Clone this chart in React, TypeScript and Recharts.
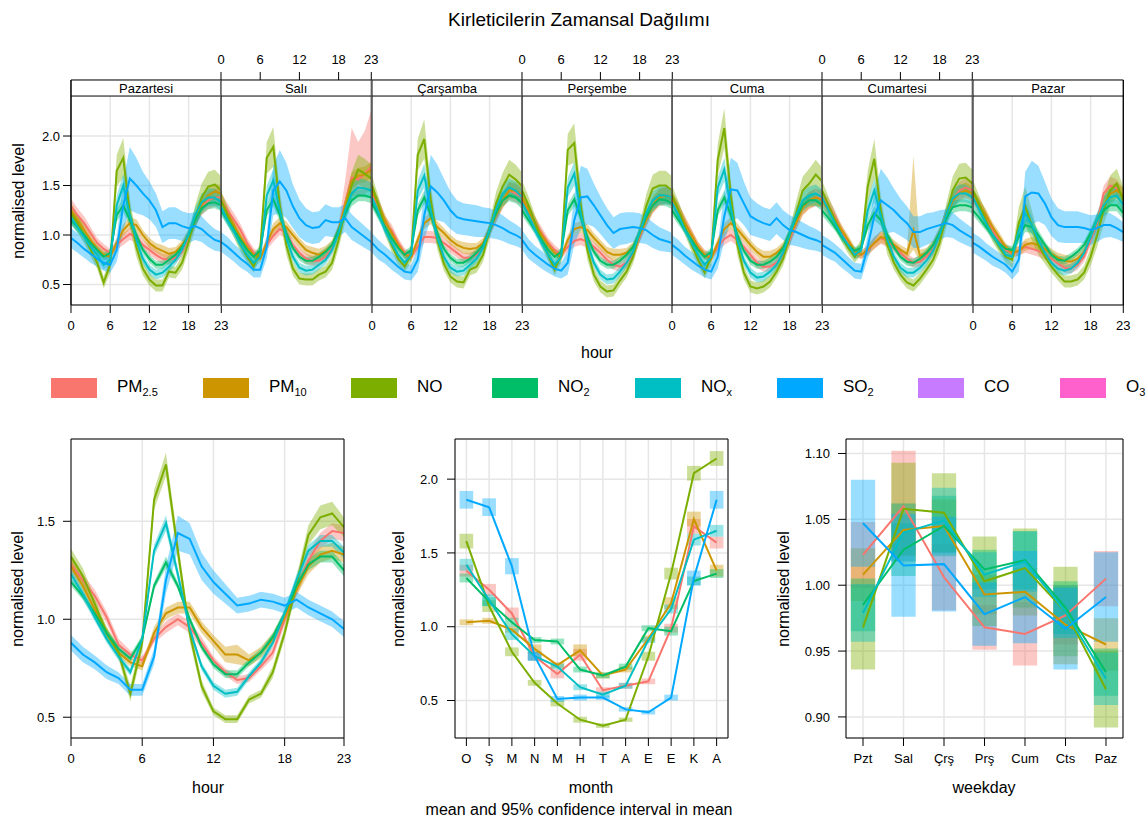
import React from 'react'
import { ComposedChart, Line, Area, XAxis, YAxis, CartesianGrid, ReferenceArea, ReferenceLine } from 'recharts'

// labels
const DAYS = ['Pazartesi', 'Salı', 'Çarşamba', 'Perşembe', 'Cuma', 'Cumartesi', 'Pazar']
const HOURS = [0, 1, 2, 3, 4, 5, 6, 7, 8, 9, 10, 11, 12, 13, 14, 15, 16, 17, 18, 19, 20, 21, 22, 23]
const HOUR_TICKS = [0, 6, 12, 18, 23]
const MONTHS = ['O', 'Ş', 'M', 'N', 'M', 'H', 'T', 'A', 'E', 'E', 'K', 'A']
const MONTH_NUMS = [1, 2, 3, 4, 5, 6, 7, 8, 9, 10, 11, 12]
const WEEKDAYS = ['Pzt', 'Sal', 'Çrş', 'Prş', 'Cum', 'Cts', 'Paz']
const WEEKDAY_NUMS = [1, 2, 3, 4, 5, 6, 7]

// pollutants shown in the panels
const SERIES = [
    { key: 'pm25', color: '#F8766D' },
    { key: 'pm10', color: '#CD9600' },
    { key: 'no', color: '#7CAE00' },
    { key: 'no2', color: '#00BE67' },
    { key: 'nox', color: '#00BFC4' },
    { key: 'so2', color: '#00A9FF' },
]

// legend (CO and O3 are in the key but have no data)
const LEGEND_ITEMS = [
    { name: 'PM', sub: '2.5', color: '#F8766D' },
    { name: 'PM', sub: '10', color: '#CD9600' },
    { name: 'NO', sub: '', color: '#7CAE00' },
    { name: 'NO', sub: '2', color: '#00BE67' },
    { name: 'NO', sub: 'x', color: '#00BFC4' },
    { name: 'SO', sub: '2', color: '#00A9FF' },
    { name: 'CO', sub: '', color: '#C77CFF' },
    { name: 'O', sub: '3', color: '#FF61CC' },
]

// ---- day x hour means (rows = Pazartesi..Pazar) ----
const PM25_BY_DAY = [
    [1.29, 1.20, 1.12, 1.02, 0.92, 0.86, 0.82, 0.90, 0.96, 1.01, 0.98, 0.90, 0.85, 0.80, 0.76, 0.75, 0.77, 0.83, 0.98, 1.15, 1.28, 1.35, 1.38, 1.38],
    [1.35, 1.25, 1.15, 1.05, 0.92, 0.82, 0.78, 0.90, 0.99, 1.06, 1.02, 0.90, 0.82, 0.76, 0.74, 0.74, 0.78, 0.86, 1.05, 1.32, 1.58, 1.56, 1.62, 1.69],
    [1.40, 1.30, 1.12, 1.05, 0.92, 0.82, 0.78, 0.88, 0.98, 0.98, 0.97, 0.92, 0.87, 0.82, 0.77, 0.77, 0.80, 0.90, 1.05, 1.20, 1.35, 1.45, 1.42, 1.38],
    [1.35, 1.25, 1.12, 1.02, 0.92, 0.85, 0.80, 0.88, 0.94, 0.96, 0.93, 0.88, 0.82, 0.75, 0.70, 0.68, 0.72, 0.80, 0.98, 1.15, 1.30, 1.38, 1.40, 1.38],
    [1.35, 1.25, 1.12, 1.00, 0.88, 0.80, 0.78, 0.88, 0.96, 1.00, 0.95, 0.88, 0.80, 0.72, 0.68, 0.68, 0.72, 0.80, 0.95, 1.12, 1.28, 1.35, 1.38, 1.37],
    [1.38, 1.30, 1.18, 1.04, 0.92, 0.82, 0.80, 0.84, 0.92, 0.97, 0.94, 0.88, 0.82, 0.76, 0.72, 0.73, 0.78, 0.85, 1.00, 1.20, 1.35, 1.45, 1.48, 1.45],
    [1.38, 1.30, 1.17, 1.05, 0.94, 0.85, 0.81, 0.84, 0.88, 0.86, 0.84, 0.80, 0.76, 0.71, 0.67, 0.66, 0.70, 0.78, 0.95, 1.12, 1.42, 1.50, 1.47, 1.38],
]
const PM10_BY_DAY = [
    [1.25, 1.15, 1.05, 0.95, 0.86, 0.80, 0.78, 0.92, 1.05, 1.12, 1.10, 1.00, 0.92, 0.87, 0.84, 0.81, 0.83, 0.90, 1.00, 1.15, 1.30, 1.40, 1.44, 1.42],
    [1.35, 1.22, 1.10, 0.98, 0.88, 0.80, 0.76, 0.92, 1.06, 1.12, 1.08, 1.00, 0.92, 0.85, 0.82, 0.80, 0.84, 0.90, 1.05, 1.30, 1.55, 1.60, 1.61, 1.66],
    [1.45, 1.30, 1.15, 1.02, 0.90, 0.80, 0.78, 0.95, 1.12, 1.17, 1.08, 1.02, 0.95, 0.90, 0.87, 0.86, 0.87, 0.92, 1.05, 1.20, 1.35, 1.45, 1.45, 1.40],
    [1.38, 1.25, 1.12, 1.00, 0.90, 0.82, 0.78, 0.95, 1.06, 1.08, 1.05, 0.97, 0.90, 0.83, 0.80, 0.80, 0.82, 0.88, 1.00, 1.15, 1.30, 1.38, 1.40, 1.38],
    [1.38, 1.25, 1.12, 1.00, 0.88, 0.80, 0.76, 0.92, 1.06, 1.12, 1.06, 0.98, 0.90, 0.83, 0.78, 0.78, 0.82, 0.88, 1.00, 1.12, 1.28, 1.35, 1.38, 1.35],
    [1.35, 1.25, 1.15, 1.05, 0.95, 0.84, 0.80, 0.85, 0.92, 0.98, 0.96, 0.90, 0.85, 0.81, 1.05, 0.79, 0.82, 0.90, 1.02, 1.20, 1.35, 1.42, 1.45, 1.42],
    [1.40, 1.30, 1.20, 1.08, 0.98, 0.88, 0.82, 0.84, 0.90, 0.92, 0.90, 0.86, 0.81, 0.77, 0.74, 0.73, 0.76, 0.83, 0.98, 1.15, 1.30, 1.42, 1.45, 1.40],
]
const NO_BY_DAY = [
    [1.22, 1.12, 1.00, 0.85, 0.72, 0.52, 0.70, 1.65, 1.78, 1.22, 0.88, 0.66, 0.55, 0.49, 0.49, 0.63, 0.62, 0.72, 0.93, 1.18, 1.38, 1.49, 1.51, 1.45],
    [1.35, 1.20, 1.05, 0.90, 0.78, 0.68, 0.85, 1.78, 1.89, 1.30, 0.90, 0.66, 0.56, 0.55, 0.55, 0.60, 0.63, 0.72, 0.95, 1.25, 1.50, 1.66, 1.62, 1.57],
    [1.50, 1.30, 1.08, 0.90, 0.76, 0.68, 0.81, 1.81, 1.97, 1.35, 0.95, 0.71, 0.58, 0.53, 0.52, 0.65, 0.68, 0.80, 1.05, 1.32, 1.49, 1.61, 1.56, 1.49],
    [1.45, 1.30, 1.12, 0.95, 0.80, 0.65, 0.80, 1.86, 1.93, 1.30, 0.85, 0.60, 0.48, 0.43, 0.44, 0.54, 0.63, 0.78, 1.02, 1.29, 1.47, 1.50, 1.50, 1.45],
    [1.40, 1.25, 1.08, 0.90, 0.75, 0.62, 0.78, 1.76, 2.08, 1.40, 0.90, 0.62, 0.48, 0.46, 0.48, 0.53, 0.63, 0.76, 0.98, 1.22, 1.45, 1.52, 1.61, 1.54],
    [1.45, 1.30, 1.15, 1.00, 0.87, 0.78, 0.88, 1.49, 1.77, 1.25, 0.90, 0.72, 0.60, 0.52, 0.49, 0.56, 0.65, 0.75, 0.92, 1.19, 1.45, 1.57, 1.58, 1.52],
    [1.45, 1.30, 1.15, 1.00, 0.88, 0.78, 0.75, 1.12, 1.29, 1.10, 0.90, 0.78, 0.68, 0.60, 0.53, 0.53, 0.55, 0.62, 0.78, 1.00, 1.25, 1.45, 1.52, 1.35],
]
const NO2_BY_DAY = [
    [1.15, 1.08, 1.00, 0.92, 0.85, 0.78, 0.82, 1.20, 1.30, 1.15, 1.00, 0.85, 0.76, 0.70, 0.70, 0.75, 0.80, 0.88, 1.00, 1.15, 1.27, 1.32, 1.33, 1.30],
    [1.25, 1.15, 1.05, 0.95, 0.85, 0.78, 0.85, 1.25, 1.36, 1.20, 1.02, 0.87, 0.78, 0.74, 0.74, 0.78, 0.83, 0.90, 1.05, 1.22, 1.35, 1.40, 1.40, 1.38],
    [1.32, 1.20, 1.08, 0.97, 0.87, 0.80, 0.85, 1.25, 1.38, 1.20, 1.02, 0.86, 0.77, 0.72, 0.72, 0.76, 0.82, 0.90, 1.05, 1.22, 1.35, 1.40, 1.38, 1.32],
    [1.25, 1.15, 1.05, 0.95, 0.85, 0.78, 0.83, 1.25, 1.36, 1.18, 0.98, 0.83, 0.74, 0.70, 0.70, 0.74, 0.80, 0.88, 1.02, 1.18, 1.30, 1.36, 1.35, 1.32],
    [1.25, 1.15, 1.05, 0.95, 0.85, 0.78, 0.83, 1.25, 1.38, 1.20, 1.00, 0.84, 0.74, 0.70, 0.70, 0.73, 0.78, 0.87, 1.02, 1.17, 1.30, 1.35, 1.35, 1.30],
    [1.25, 1.17, 1.08, 0.98, 0.90, 0.84, 0.87, 1.10, 1.22, 1.15, 1.00, 0.88, 0.78, 0.73, 0.72, 0.76, 0.82, 0.90, 1.02, 1.17, 1.28, 1.30, 1.30, 1.28],
    [1.25, 1.17, 1.08, 1.00, 0.92, 0.86, 0.85, 0.98, 1.10, 1.08, 1.00, 0.90, 0.80, 0.75, 0.74, 0.78, 0.83, 0.90, 1.02, 1.15, 1.25, 1.30, 1.30, 1.22],
]
const NOX_BY_DAY = [
    [1.18, 1.08, 0.98, 0.88, 0.80, 0.70, 0.75, 1.30, 1.50, 1.20, 0.95, 0.76, 0.65, 0.60, 0.62, 0.68, 0.75, 0.85, 1.00, 1.20, 1.33, 1.38, 1.38, 1.33],
    [1.28, 1.15, 1.03, 0.90, 0.80, 0.72, 0.78, 1.40, 1.55, 1.25, 0.97, 0.78, 0.67, 0.64, 0.65, 0.70, 0.75, 0.85, 1.02, 1.25, 1.42, 1.48, 1.47, 1.45],
    [1.38, 1.22, 1.05, 0.92, 0.80, 0.72, 0.80, 1.45, 1.60, 1.25, 0.97, 0.78, 0.67, 0.63, 0.64, 0.70, 0.76, 0.87, 1.05, 1.27, 1.42, 1.48, 1.45, 1.38],
    [1.33, 1.20, 1.05, 0.92, 0.80, 0.70, 0.78, 1.48, 1.62, 1.22, 0.92, 0.72, 0.60, 0.55, 0.56, 0.63, 0.72, 0.83, 1.02, 1.22, 1.35, 1.40, 1.40, 1.38],
    [1.33, 1.20, 1.05, 0.92, 0.80, 0.70, 0.78, 1.48, 1.66, 1.28, 0.95, 0.74, 0.62, 0.57, 0.58, 0.63, 0.70, 0.82, 1.00, 1.20, 1.35, 1.40, 1.42, 1.38],
    [1.38, 1.25, 1.12, 1.00, 0.90, 0.80, 0.85, 1.25, 1.45, 1.20, 0.95, 0.78, 0.67, 0.62, 0.62, 0.67, 0.74, 0.84, 1.00, 1.20, 1.37, 1.42, 1.42, 1.38],
    [1.38, 1.25, 1.12, 1.00, 0.90, 0.80, 0.78, 1.05, 1.22, 1.10, 0.95, 0.82, 0.72, 0.66, 0.64, 0.66, 0.72, 0.82, 0.98, 1.15, 1.30, 1.38, 1.40, 1.30],
]
const SO2_BY_DAY = [
    [0.97, 0.92, 0.86, 0.81, 0.76, 0.72, 0.70, 0.85, 1.30, 1.57, 1.50, 1.42, 1.35, 1.25, 1.08, 1.12, 1.12, 1.09, 1.07, 1.09, 1.06, 1.00, 0.95, 0.93],
    [0.93, 0.88, 0.82, 0.76, 0.71, 0.65, 0.65, 0.88, 1.45, 1.54, 1.45, 1.29, 1.17, 1.10, 1.07, 1.08, 1.15, 1.13, 1.13, 1.17, 1.08, 1.03, 0.98, 0.93],
    [0.92, 0.85, 0.80, 0.74, 0.68, 0.63, 0.62, 0.75, 1.20, 1.49, 1.43, 1.35, 1.25, 1.18, 1.16, 1.15, 1.14, 1.13, 1.12, 1.10, 1.07, 1.03, 1.00, 0.96],
    [0.95, 0.86, 0.80, 0.75, 0.70, 0.66, 0.64, 0.72, 1.15, 1.38, 1.39, 1.30, 1.20, 1.10, 1.02, 1.06, 1.07, 1.08, 1.07, 1.05, 1.00, 0.96, 0.94, 0.92],
    [0.90, 0.85, 0.79, 0.74, 0.69, 0.65, 0.63, 0.78, 1.19, 1.46, 1.45, 1.32, 1.19, 1.15, 1.12, 1.10, 1.17, 1.10, 1.05, 1.03, 1.00, 0.97, 0.95, 0.92],
    [0.90, 0.86, 0.82, 0.76, 0.70, 0.64, 0.63, 0.88, 1.19, 1.35, 1.30, 1.25, 1.18, 1.12, 1.03, 1.03, 1.06, 1.08, 1.10, 1.12, 1.10, 1.05, 1.01, 0.97],
    [0.92, 0.88, 0.83, 0.78, 0.74, 0.70, 0.63, 0.75, 1.39, 1.43, 1.42, 1.32, 1.18, 1.10, 1.08, 1.08, 1.08, 1.07, 1.05, 1.07, 1.10, 1.10, 1.07, 1.03],
]

// half width of the 95% interval by hour (day x hour panels)
const PM25_DAY_HW = [0.08, 0.07, 0.07, 0.06, 0.05, 0.05, 0.04, 0.05, 0.06, 0.06, 0.06, 0.05, 0.05, 0.05, 0.05, 0.05, 0.05, 0.05, 0.06, 0.07, 0.08, 0.09, 0.09, 0.09]
const PM10_DAY_HW = [0.07, 0.06, 0.06, 0.05, 0.05, 0.04, 0.04, 0.05, 0.06, 0.06, 0.06, 0.05, 0.05, 0.05, 0.06, 0.06, 0.05, 0.05, 0.06, 0.07, 0.08, 0.08, 0.08, 0.08]
const NO_DAY_HW = [0.10, 0.09, 0.08, 0.07, 0.06, 0.06, 0.08, 0.16, 0.20, 0.15, 0.10, 0.07, 0.06, 0.06, 0.06, 0.06, 0.06, 0.07, 0.09, 0.12, 0.14, 0.15, 0.15, 0.14]
const NO2_DAY_HW = [0.05, 0.05, 0.04, 0.04, 0.04, 0.04, 0.04, 0.06, 0.07, 0.06, 0.05, 0.04, 0.04, 0.04, 0.04, 0.04, 0.04, 0.04, 0.05, 0.06, 0.06, 0.06, 0.06, 0.06]
const NOX_DAY_HW = [0.07, 0.06, 0.05, 0.05, 0.05, 0.05, 0.05, 0.10, 0.12, 0.09, 0.07, 0.05, 0.05, 0.05, 0.05, 0.05, 0.05, 0.05, 0.06, 0.08, 0.09, 0.09, 0.09, 0.08]
const SO2_DAY_HW = [0.10, 0.10, 0.09, 0.09, 0.08, 0.08, 0.08, 0.12, 0.25, 0.32, 0.28, 0.22, 0.19, 0.17, 0.16, 0.16, 0.16, 0.15, 0.15, 0.14, 0.13, 0.12, 0.11, 0.10]

// a few intervals that are clearly lopsided in the picture
const BAND_OVERRIDES = [
    { key: 'pm25', day: 1, hour: 19, lo: 1.20, hi: 1.55 },
    { key: 'pm25', day: 1, hour: 20, lo: 1.40, hi: 2.08 },
    { key: 'pm25', day: 1, hour: 21, lo: 1.38, hi: 1.94 },
    { key: 'pm25', day: 1, hour: 22, lo: 1.42, hi: 2.05 },
    { key: 'pm25', day: 1, hour: 23, lo: 1.45, hi: 2.26 },
    { key: 'pm10', day: 5, hour: 14, lo: 0.85, hi: 1.80 },
]

// ---- hour of day (all days) ----
const PM25_HOUR = [1.28, 1.20, 1.12, 1.01, 0.87, 0.82, 0.79, 0.90, 0.96, 1.00, 0.96, 0.88, 0.79, 0.73, 0.69, 0.70, 0.76, 0.83, 1.00, 1.15, 1.30, 1.40, 1.45, 1.44]
const PM10_HOUR = [1.27, 1.17, 1.05, 0.93, 0.83, 0.78, 0.76, 0.93, 1.03, 1.06, 1.06, 0.96, 0.89, 0.82, 0.82, 0.79, 0.83, 0.90, 1.01, 1.15, 1.27, 1.33, 1.35, 1.33]
const NO_HOUR = [1.32, 1.22, 1.08, 0.93, 0.83, 0.62, 0.88, 1.61, 1.79, 1.35, 0.93, 0.66, 0.53, 0.49, 0.49, 0.59, 0.62, 0.73, 0.93, 1.18, 1.43, 1.52, 1.54, 1.47]
const NO2_HOUR = [1.19, 1.12, 1.03, 0.93, 0.85, 0.80, 0.90, 1.17, 1.29, 1.17, 1.00, 0.86, 0.77, 0.72, 0.72, 0.78, 0.83, 0.91, 1.03, 1.17, 1.28, 1.32, 1.32, 1.25]
const NOX_HOUR = [1.23, 1.13, 1.01, 0.90, 0.81, 0.73, 0.90, 1.35, 1.49, 1.23, 0.95, 0.76, 0.66, 0.62, 0.63, 0.71, 0.78, 0.88, 1.03, 1.20, 1.35, 1.40, 1.40, 1.34]
const SO2_HOUR = [0.88, 0.82, 0.78, 0.73, 0.70, 0.64, 0.64, 0.81, 1.20, 1.44, 1.41, 1.27, 1.19, 1.13, 1.07, 1.08, 1.10, 1.09, 1.07, 1.10, 1.06, 1.03, 1.00, 0.95]

const PM25_HOUR_HW = [0.04, 0.03, 0.03, 0.03, 0.03, 0.02, 0.02, 0.02, 0.03, 0.03, 0.03, 0.03, 0.02, 0.02, 0.02, 0.02, 0.02, 0.03, 0.03, 0.03, 0.04, 0.04, 0.04, 0.04]
const PM10_HOUR_HW = [0.04, 0.03, 0.03, 0.03, 0.02, 0.02, 0.02, 0.03, 0.03, 0.03, 0.03, 0.03, 0.03, 0.04, 0.05, 0.03, 0.03, 0.03, 0.03, 0.03, 0.04, 0.04, 0.04, 0.04]
const NO_HOUR_HW = [0.04, 0.04, 0.03, 0.03, 0.03, 0.04, 0.04, 0.05, 0.06, 0.05, 0.04, 0.03, 0.02, 0.02, 0.02, 0.02, 0.02, 0.03, 0.03, 0.04, 0.05, 0.06, 0.06, 0.05]
const NO2_HOUR_HW = [0.02, 0.02, 0.02, 0.02, 0.02, 0.02, 0.02, 0.02, 0.03, 0.02, 0.02, 0.02, 0.02, 0.02, 0.02, 0.02, 0.02, 0.02, 0.02, 0.02, 0.03, 0.03, 0.03, 0.03]
const NOX_HOUR_HW = [0.03, 0.03, 0.02, 0.02, 0.02, 0.02, 0.02, 0.03, 0.04, 0.03, 0.02, 0.02, 0.02, 0.02, 0.02, 0.02, 0.02, 0.02, 0.02, 0.03, 0.03, 0.03, 0.03, 0.03]
const SO2_HOUR_HW = [0.04, 0.04, 0.035, 0.035, 0.03, 0.03, 0.03, 0.04, 0.07, 0.09, 0.08, 0.07, 0.06, 0.05, 0.04, 0.04, 0.04, 0.04, 0.04, 0.04, 0.04, 0.04, 0.04, 0.04]

// ---- month ----
const PM25_MONTH = [1.38, 1.25, 1.09, 0.80, 0.68, 0.81, 0.57, 0.60, 0.63, 0.99, 1.68, 1.57]
const PM10_MONTH = [1.03, 1.04, 0.98, 0.85, 0.74, 0.84, 0.67, 0.71, 0.92, 1.16, 1.73, 1.38]
const NO_MONTH = [1.58, 1.14, 0.83, 0.62, 0.48, 0.37, 0.33, 0.37, 0.80, 1.36, 2.04, 2.14]
const NO2_MONTH = [1.33, 1.17, 1.03, 0.91, 0.90, 0.71, 0.67, 0.73, 0.99, 0.97, 1.31, 1.36]
const NOX_MONTH = [1.42, 1.18, 0.95, 0.80, 0.73, 0.59, 0.54, 0.60, 0.91, 1.12, 1.59, 1.65]
const SO2_MONTH = [1.86, 1.81, 1.41, 0.80, 0.51, 0.52, 0.52, 0.44, 0.42, 0.52, 1.33, 1.86]

const PM25_MONTH_HW = [0.04, 0.04, 0.04, 0.03, 0.03, 0.04, 0.02, 0.02, 0.02, 0.03, 0.05, 0.04]
const PM10_MONTH_HW = [0.02, 0.02, 0.02, 0.03, 0.02, 0.04, 0.02, 0.02, 0.02, 0.04, 0.05, 0.04]
const NO_MONTH_HW = [0.05, 0.04, 0.03, 0.02, 0.02, 0.02, 0.015, 0.015, 0.03, 0.04, 0.05, 0.05]
const NO2_MONTH_HW = [0.03, 0.03, 0.03, 0.02, 0.02, 0.02, 0.02, 0.02, 0.02, 0.03, 0.03, 0.03]
const NOX_MONTH_HW = [0.04, 0.04, 0.04, 0.03, 0.02, 0.02, 0.02, 0.02, 0.02, 0.03, 0.04, 0.04]
const SO2_MONTH_HW = [0.06, 0.06, 0.055, 0.03, 0.02, 0.02, 0.015, 0.015, 0.015, 0.02, 0.05, 0.06]

// ---- weekday ----
const PM25_WEEKDAY = [1.023, 1.060, 1.006, 0.968, 0.963, 0.977, 1.005]
const PM10_WEEKDAY = [1.008, 1.042, 1.045, 0.993, 0.995, 0.970, 0.955]
const NO_WEEKDAY = [0.968, 1.058, 1.055, 1.003, 1.013, 0.980, 0.921]
const NO2_WEEKDAY = [0.985, 1.027, 1.045, 1.012, 1.019, 0.983, 0.934]
const NOX_WEEKDAY = [0.979, 1.040, 1.049, 1.008, 1.018, 0.980, 0.929]
const SO2_WEEKDAY = [1.047, 1.015, 1.016, 0.978, 0.991, 0.967, 0.991]

const PM25_WEEKDAY_HW = [0.025, 0.042, 0.025, 0.017, 0.024, 0.022, 0.021]
const PM10_WEEKDAY_HW = [0.020, 0.020, 0.020, 0.015, 0.018, 0.030, 0.020]
const NO_WEEKDAY_HW = [0.032, 0.035, 0.030, 0.034, 0.030, 0.034, 0.029]
const NO2_WEEKDAY_HW = [0.020, 0.020, 0.023, 0.015, 0.022, 0.020, 0.018]
const NOX_WEEKDAY_HW = [0.022, 0.022, 0.025, 0.017, 0.023, 0.020, 0.020]
const SO2_WEEKDAY_HW = [0.033, 0.039, 0.036, 0.024, 0.035, 0.031, 0.034]

// lookups built from the arrays above
const DAY_MEAN: Record<string, number[][]> = { pm25: PM25_BY_DAY, pm10: PM10_BY_DAY, no: NO_BY_DAY, no2: NO2_BY_DAY, nox: NOX_BY_DAY, so2: SO2_BY_DAY }
const DAY_HW: Record<string, number[]> = { pm25: PM25_DAY_HW, pm10: PM10_DAY_HW, no: NO_DAY_HW, no2: NO2_DAY_HW, nox: NOX_DAY_HW, so2: SO2_DAY_HW }
const HOUR_MEAN: Record<string, number[]> = { pm25: PM25_HOUR, pm10: PM10_HOUR, no: NO_HOUR, no2: NO2_HOUR, nox: NOX_HOUR, so2: SO2_HOUR }
const HOUR_HW: Record<string, number[]> = { pm25: PM25_HOUR_HW, pm10: PM10_HOUR_HW, no: NO_HOUR_HW, no2: NO2_HOUR_HW, nox: NOX_HOUR_HW, so2: SO2_HOUR_HW }
const MONTH_MEAN: Record<string, number[]> = { pm25: PM25_MONTH, pm10: PM10_MONTH, no: NO_MONTH, no2: NO2_MONTH, nox: NOX_MONTH, so2: SO2_MONTH }
const MONTH_HW: Record<string, number[]> = { pm25: PM25_MONTH_HW, pm10: PM10_MONTH_HW, no: NO_MONTH_HW, no2: NO2_MONTH_HW, nox: NOX_MONTH_HW, so2: SO2_MONTH_HW }
const WEEKDAY_MEAN: Record<string, number[]> = { pm25: PM25_WEEKDAY, pm10: PM10_WEEKDAY, no: NO_WEEKDAY, no2: NO2_WEEKDAY, nox: NOX_WEEKDAY, so2: SO2_WEEKDAY }
const WEEKDAY_HW: Record<string, number[]> = { pm25: PM25_WEEKDAY_HW, pm10: PM10_WEEKDAY_HW, no: NO_WEEKDAY_HW, no2: NO2_WEEKDAY_HW, nox: NOX_WEEKDAY_HW, so2: SO2_WEEKDAY_HW }

function dayRows(d: number) {
    return HOURS.map((h, i) => {
        const row: any = { hour: h }
        SERIES.forEach(s => {
            const m = DAY_MEAN[s.key][d][i]
            const hw = DAY_HW[s.key][i]
            const o = BAND_OVERRIDES.find(b => b.key === s.key && b.day === d && b.hour === h)
            row[s.key] = m
            row[s.key + 'Band'] = o ? [o.lo, o.hi] : [m - hw, m + hw]
        })
        return row
    })
}

const hourRows = HOURS.map((h, i) => {
    const row: any = { hour: h }
    SERIES.forEach(s => {
        const m = HOUR_MEAN[s.key][i]
        row[s.key] = m
        row[s.key + 'Band'] = [m - HOUR_HW[s.key][i], m + HOUR_HW[s.key][i]]
    })
    return row
})

const monthRows = MONTH_NUMS.map((m, i) => {
    const row: any = { m }
    SERIES.forEach(s => { row[s.key] = MONTH_MEAN[s.key][i] })
    return row
})

const weekdayRows = WEEKDAY_NUMS.map((w, i) => {
    const row: any = { w }
    SERIES.forEach(s => { row[s.key] = WEEKDAY_MEAN[s.key][i] })
    return row
})

// layout
const FONT = '"Liberation Sans", Arial, Helvetica, sans-serif'
const INK = '#000'
const GRID = '#e6e6e6'
const TICK = { fill: '#000', fontSize: 13 }
const TOP_X0 = 71
const TOP_PANEL_W = (1123 - 71) / 7
const TOP_Y_DOMAIN = [0.293, 2.566]
const STRIP_Y = 2.404
const LEGEND_LEFT = [51, 203, 351, 492, 635, 777, 918, 1060]

function DayPanel({ d }: { d: number }) {
    const leftW = d === 0 ? 71 : 0
    const rightW = d === 6 ? 24 : 0
    const pad = 12
    const rows = dayRows(d)
    return (
        <div style={{ position: 'absolute', left: TOP_X0 + d * TOP_PANEL_W - leftW - pad, top: 40 }}>
            <ComposedChart width={leftW + TOP_PANEL_W + rightW + pad * 2} height={305} data={rows}
                margin={{ top: 0, right: pad, bottom: 0, left: pad }}>
                <CartesianGrid xAxisId="b" yAxisId="l" stroke={GRID} strokeWidth={1.5} />
                <ReferenceArea xAxisId="b" yAxisId="l" y1={STRIP_Y} y2={TOP_Y_DOMAIN[1]} fill="#fff" fillOpacity={1} stroke="none"
                    label={{ value: DAYS[d], position: 'center', fill: INK, fontSize: 13 }} />
                {SERIES.map(s => [
                    <Area key={s.key + 'a'} xAxisId="b" yAxisId="l" type="linear" dataKey={s.key + 'Band'}
                        fill={s.color} fillOpacity={0.4} stroke="none" activeDot={false} isAnimationActive={false} />,
                    <Line key={s.key + 'l'} xAxisId="b" yAxisId="l" type="linear" dataKey={s.key}
                        stroke={s.color} strokeWidth={2} dot={false} activeDot={false} isAnimationActive={false} />,
                ])}
                <ReferenceLine xAxisId="b" yAxisId="l" y={STRIP_Y} stroke={INK} />
                <ReferenceLine xAxisId="b" yAxisId="l" x={0} stroke={INK} />
                <ReferenceLine xAxisId="b" yAxisId="l" x={23} stroke={INK} />
                <XAxis xAxisId="b" dataKey="hour" type="number" domain={[0, 23]} ticks={HOUR_TICKS} interval={0} allowDataOverflow
                    height={40} stroke={INK} tickSize={8} tickMargin={8} tick={d % 2 === 0 ? TICK : false} />
                <XAxis xAxisId="t" orientation="top" type="number" domain={[0, 23]} ticks={HOUR_TICKS} interval={0} allowDataOverflow
                    height={40} stroke={INK} tickSize={8} tickMargin={8} tick={d % 2 === 1 ? TICK : false} />
                <YAxis yAxisId="l" type="number" domain={TOP_Y_DOMAIN} ticks={[0.5, 1, 1.5, 2]} interval={0} allowDataOverflow
                    width={leftW} stroke={INK} tickSize={8} tickMargin={3} tickLine={d === 0}
                    tick={d === 0 ? TICK : false} tickFormatter={(v: number) => v.toFixed(1)} />
                {d === 6 && (
                    <YAxis yAxisId="r" orientation="right" type="number" domain={TOP_Y_DOMAIN} ticks={[0.5, 1, 1.5, 2]}
                        allowDataOverflow width={rightW} stroke={INK} tickSize={8} tick={false} />
                )}
            </ComposedChart>
        </div>
    )
}

function HourChart() {
    return (
        <div style={{ position: 'absolute', left: 0, top: 399 }}>
            <ComposedChart width={71 + 273 + 24} height={379} data={hourRows} margin={{ top: 0, right: 0, bottom: 0, left: 0 }}>
                <CartesianGrid xAxisId="b" yAxisId="l" stroke={GRID} strokeWidth={1.5} />
                {SERIES.map(s => [
                    <Area key={s.key + 'a'} xAxisId="b" yAxisId="l" type="linear" dataKey={s.key + 'Band'}
                        fill={s.color} fillOpacity={0.4} stroke="none" activeDot={false} isAnimationActive={false} />,
                    <Line key={s.key + 'l'} xAxisId="b" yAxisId="l" type="linear" dataKey={s.key}
                        stroke={s.color} strokeWidth={2} dot={false} activeDot={false} isAnimationActive={false} />,
                ])}
                <XAxis xAxisId="b" dataKey="hour" type="number" domain={[0, 23]} ticks={HOUR_TICKS} interval={0} allowDataOverflow
                    height={40} stroke={INK} tickSize={8} tickMargin={8} tick={TICK} />
                <XAxis xAxisId="t" orientation="top" type="number" domain={[0, 23]} ticks={HOUR_TICKS} interval={0} allowDataOverflow
                    height={40} stroke={INK} tickSize={8} tick={false} />
                <YAxis yAxisId="l" type="number" domain={[0.394, 1.92]} ticks={[0.5, 1, 1.5]} interval={0} allowDataOverflow
                    width={71} stroke={INK} tickSize={8} tickMargin={8} tick={TICK} tickFormatter={(v: number) => v.toFixed(1)} />
                <YAxis yAxisId="r" orientation="right" type="number" domain={[0.394, 1.92]} ticks={[0.5, 1, 1.5]} allowDataOverflow
                    width={24} stroke={INK} tickSize={8} tick={false} />
            </ComposedChart>
        </div>
    )
}

function MonthChart() {
    return (
        <div style={{ position: 'absolute', left: 395, top: 399 }}>
            <ComposedChart width={60 + 273 + 24} height={379} data={monthRows} margin={{ top: 0, right: 0, bottom: 0, left: 0 }}>
                <CartesianGrid xAxisId="b" yAxisId="l" stroke={GRID} strokeWidth={1.5} />
                {SERIES.map(s => MONTH_NUMS.map((m, i) => (
                    <ReferenceArea key={s.key + m} xAxisId="b" yAxisId="l" x1={m - 0.3} x2={m + 0.3}
                        y1={MONTH_MEAN[s.key][i] - MONTH_HW[s.key][i]} y2={MONTH_MEAN[s.key][i] + MONTH_HW[s.key][i]}
                        fill={s.color} fillOpacity={0.4} stroke="none" />
                )))}
                {SERIES.map(s => (
                    <Line key={s.key} xAxisId="b" yAxisId="l" type="linear" dataKey={s.key}
                        stroke={s.color} strokeWidth={2} dot={false} activeDot={false} isAnimationActive={false} />
                ))}
                <XAxis xAxisId="b" dataKey="m" type="number" domain={[0.5, 12.5]} ticks={MONTH_NUMS} interval={0} allowDataOverflow
                    height={40} stroke={INK} tickSize={8} tickMargin={8} tick={TICK} tickFormatter={(v: number) => MONTHS[v - 1]} />
                <XAxis xAxisId="t" orientation="top" type="number" domain={[0.5, 12.5]} ticks={MONTH_NUMS} interval={0} allowDataOverflow
                    height={40} stroke={INK} tickSize={8} tick={false} />
                <YAxis yAxisId="l" type="number" domain={[0.246, 2.272]} ticks={[0.5, 1, 1.5, 2]} interval={0} allowDataOverflow
                    width={60} stroke={INK} tickSize={8} tickMargin={9} tick={TICK} tickFormatter={(v: number) => v.toFixed(1)} />
                <YAxis yAxisId="r" orientation="right" type="number" domain={[0.246, 2.272]} ticks={[0.5, 1, 1.5, 2]} allowDataOverflow
                    width={24} stroke={INK} tickSize={8} tick={false} />
            </ComposedChart>
        </div>
    )
}

function WeekdayChart() {
    return (
        <div style={{ position: 'absolute', left: 786, top: 399 }}>
            <ComposedChart width={60 + 277 + 24} height={379} data={weekdayRows} margin={{ top: 0, right: 0, bottom: 0, left: 0 }}>
                <CartesianGrid xAxisId="b" yAxisId="l" stroke={GRID} strokeWidth={1.5} />
                {SERIES.map(s => WEEKDAY_NUMS.map((w, i) => (
                    <ReferenceArea key={s.key + w} xAxisId="b" yAxisId="l" x1={w - 0.3} x2={w + 0.3}
                        y1={WEEKDAY_MEAN[s.key][i] - WEEKDAY_HW[s.key][i]} y2={WEEKDAY_MEAN[s.key][i] + WEEKDAY_HW[s.key][i]}
                        fill={s.color} fillOpacity={0.4} stroke="none" />
                )))}
                {SERIES.map(s => (
                    <Line key={s.key} xAxisId="b" yAxisId="l" type="linear" dataKey={s.key}
                        stroke={s.color} strokeWidth={2} dot={false} activeDot={false} isAnimationActive={false} />
                ))}
                <XAxis xAxisId="b" dataKey="w" type="number" domain={[0.58, 7.42]} ticks={WEEKDAY_NUMS} interval={0} allowDataOverflow
                    height={40} stroke={INK} tickSize={8} tickMargin={8} tick={TICK} tickFormatter={(v: number) => WEEKDAYS[v - 1]} />
                <XAxis xAxisId="t" orientation="top" type="number" domain={[0.58, 7.42]} ticks={WEEKDAY_NUMS} interval={0} allowDataOverflow
                    height={40} stroke={INK} tickSize={8} tick={false} />
                <YAxis yAxisId="l" type="number" domain={[0.884, 1.111]} ticks={[0.9, 0.95, 1, 1.05, 1.1]} interval={0} allowDataOverflow
                    width={60} stroke={INK} tickSize={8} tickMargin={8} tick={TICK} tickFormatter={(v: number) => v.toFixed(2)} />
                <YAxis yAxisId="r" orientation="right" type="number" domain={[0.884, 1.111]} ticks={[0.9, 0.95, 1, 1.05, 1.1]} allowDataOverflow
                    width={24} stroke={INK} tickSize={8} tick={false} />
            </ComposedChart>
        </div>
    )
}

function VLabel({ x, y, text }: { x: number; y: number; text: string }) {
    return (
        <div style={{ position: 'absolute', left: x, top: y, transform: 'translate(-50%, -50%) rotate(-90deg)', fontSize: 16, whiteSpace: 'nowrap' }}>
            {text}
        </div>
    )
}

function HLabel({ x, y, text, size = 16 }: { x: number; y: number; text: string; size?: number }) {
    return (
        <div style={{ position: 'absolute', left: x, top: y, transform: 'translate(-50%, -50%)', fontSize: size, whiteSpace: 'nowrap' }}>
            {text}
        </div>
    )
}

export default function App() {
    return (
        <div style={{ position: 'absolute', left: 0, top: 0, width: 1147, height: 820, background: '#fff', fontFamily: FONT, color: '#000', overflow: 'hidden' }}>
            <HLabel x={579} y={20} text="Kirleticilerin Zamansal Dağılımı" size={19} />

            {DAYS.map((_, d) => <DayPanel key={d} d={d} />)}
            <VLabel x={19} y={201} text="normalised level" />
            <HLabel x={597} y={353} text="hour" />

            {LEGEND_ITEMS.map((it, i) => (
                <div key={i}>
                    <div style={{ position: 'absolute', left: LEGEND_LEFT[i], top: 378, width: 46, height: 20, background: it.color }} />
                    <div style={{ position: 'absolute', left: LEGEND_LEFT[i] + 66, top: 377, height: 20, lineHeight: '20px', fontSize: 17, whiteSpace: 'nowrap' }}>
                        {it.name}
                        {it.sub && <sub style={{ fontSize: 11, verticalAlign: '-4px', lineHeight: 0 }}>{it.sub}</sub>}
                    </div>
                </div>
            ))}

            <HourChart />
            <MonthChart />
            <WeekdayChart />

            <VLabel x={18} y={589} text="normalised level" />
            <VLabel x={399} y={589} text="normalised level" />
            <VLabel x={784} y={589} text="normalised level" />
            <HLabel x={208} y={788} text="hour" />
            <HLabel x={591} y={788} text="month" />
            <HLabel x={579} y={810} text="mean and 95% confidence interval in mean" />
            <HLabel x={984} y={788} text="weekday" />
        </div>
    )
}
